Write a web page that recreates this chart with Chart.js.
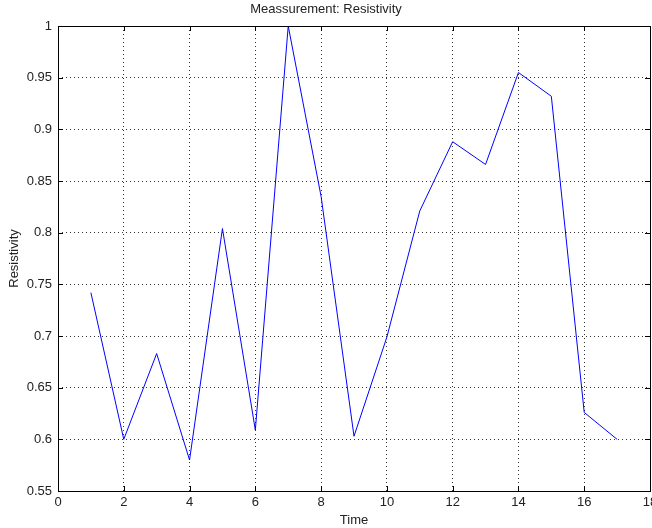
<!DOCTYPE html>
<html>
<head>
<meta charset="utf-8">
<script src="https://cdn.jsdelivr.net/npm/chart.js@4/dist/chart.umd.min.js"></script>
<style>
  html, body { margin:0; padding:0; background:#fff; }
  #wrap { width:652px; height:528px; }
</style>
</head>
<body>
<div id="wrap"><canvas id="myChart" width="652" height="528"></canvas></div>
<script>
// time steps and measured resistivity
var times = [1,2,3,4,5,6,7,8,9,10,11,12,13,14,15,16,17];
var resistivity = [0.742,0.600,0.683,0.580,0.804,0.609,1.000,0.835,0.603,0.699,0.821,0.888,0.866,0.955,0.932,0.626,0.600];

var xTicks = [0,2,4,6,8,10,12,14,16,18];
var yTicks = [0.55,0.6,0.65,0.7,0.75,0.8,0.85,0.9,0.95,1];

var points = [];
for (var i = 0; i < times.length; i++) {
    points.push({x: times[i], y: resistivity[i]});
}

// box around plot + inward tick marks (matlab look)
var boxPlugin = {
    id: "box",
    afterDraw: function(chart){
        var ctx = chart.ctx;
        var a = chart.chartArea;
        var xs = chart.scales.x, ys = chart.scales.y;
        ctx.save();
        ctx.strokeStyle = "#000";
        ctx.lineWidth = 1;
        ctx.strokeRect(Math.round(a.left)+0.5, Math.round(a.top)+0.5, Math.round(a.right-a.left), Math.round(a.bottom-a.top));
        ctx.beginPath();
        xTicks.forEach(function(v){
            var px = Math.round(xs.getPixelForValue(v))+0.5;
            ctx.moveTo(px, a.bottom); ctx.lineTo(px, a.bottom-5);
            ctx.moveTo(px, a.top); ctx.lineTo(px, a.top+5);
        });
        yTicks.forEach(function(v){
            var py = Math.round(ys.getPixelForValue(v))+0.5;
            ctx.moveTo(a.left, py); ctx.lineTo(a.left+5, py);
            ctx.moveTo(a.right, py); ctx.lineTo(a.right-5, py);
        });
        ctx.stroke();
        ctx.restore();
    }
};

Chart.defaults.font.family = "'Liberation Sans', Arial, sans-serif";
Chart.defaults.font.size = 13;
Chart.defaults.color = "#222";

var chart = new Chart(document.getElementById("myChart").getContext("2d"), {
    type: "line",
    data: {
        datasets: [{
            label: "Resistivity",
            data: points,
            borderColor: "#0000ff",
            borderWidth: 1,
            pointRadius: 0,
            tension: 0,
            fill: false
        }]
    },
    options: {
        responsive: false,
        animation: false,
        layout: { padding: { left: 0, right: 0, top: 0, bottom: 0 } },
        plugins: {
            legend: { display: false },
            tooltip: { enabled: false },
            title: {
                display: true,
                text: "Meassurement: Resistivity",
                color: "#222",
                font: { size: 13, weight: "normal" },
                padding: { top: 2, bottom: 8.4 }
            }
        },
        scales: {
            x: {
                type: "linear",
                min: 0, max: 18,
                afterBuildTicks: function(s){ s.ticks = xTicks.map(function(v){ return {value: v}; }); },
                ticks: { padding: 4, maxRotation: 0 },
                grid: { color: "#333", drawTicks: false },
                border: { display: false, dash: [1,3] },
                title: { display: true, text: "Time", padding: { top: 0, bottom: 0 }, font: { size: 13 } },
                afterFit: function(s){ s.height = 37; s.paddingRight = 2; s.paddingLeft = 0; }
            },
            y: {
                min: 0.55, max: 1,
                afterBuildTicks: function(s){ s.ticks = yTicks.map(function(v){ return {value: v}; }); },
                ticks: { padding: 6, callback: function(v){ return String(+v.toFixed(2)); } },
                grid: { color: "#333", drawTicks: false },
                border: { display: false, dash: [1,3] },
                title: { display: true, text: "Resistivity", padding: { top: 7, bottom: 0 }, font: { size: 13 } },
                afterFit: function(s){ s.width = 58; }
            }
        }
    },
    plugins: [boxPlugin]
});
</script>
</body>
</html>
